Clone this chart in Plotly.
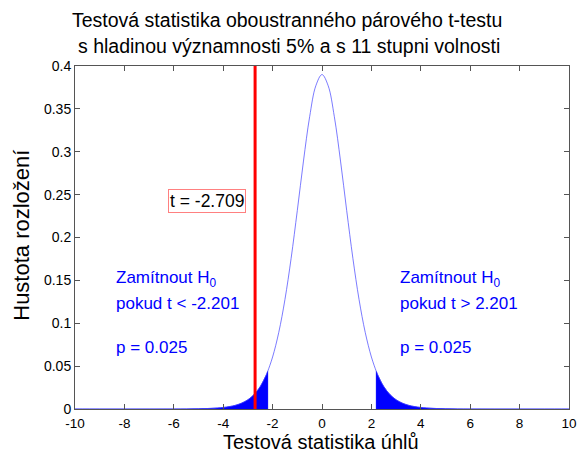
import plotly.graph_objects as go

# Student t density, 11 degrees of freedom (sampled values)
x_vals = [-10, -9, -8, -7, -6, -5, -4.5, -4, -3.75, -3.5, -3.25, -3, -2.75, -2.709,
          -2.5, -2.25, -2.201, -2, -1.75, -1.5, -1.25, -1, -0.75, -0.5, -0.25, 0,
          0.25, 0.5, 0.75, 1, 1.25, 1.5, 1.75, 2, 2.201, 2.25, 2.5, 2.75, 3, 3.25,
          3.5, 3.75, 4, 4.5, 5, 6, 7, 8, 9, 10]
density = [0.0000004, 0.0000012, 0.0000039, 0.000015, 0.000064, 0.000317, 0.000741,
           0.001784, 0.002787, 0.004374, 0.006876, 0.01080, 0.01689, 0.01816,
           0.02622, 0.04023, 0.04367, 0.06065, 0.08934, 0.1277, 0.17578, 0.2314,
           0.28915, 0.3408, 0.37697, 0.3900,
           0.37697, 0.3408, 0.28915, 0.2314, 0.17578, 0.1277, 0.08934, 0.06065,
           0.04367, 0.04023, 0.02622, 0.01689, 0.01080, 0.006876, 0.004374,
           0.002787, 0.001784, 0.000741, 0.000317, 0.000064, 0.000015, 0.0000039,
           0.0000012, 0.0000004]

t_crit = 2.201
t_stat = -2.709
x_ticks = [-10, -8, -6, -4, -2, 0, 2, 4, 6, 8, 10]
x_tick_text = ["-10", "-8", "-6", "-4", "-2", "0", "2", "4", "6", "8", "10"]
y_ticks = [0, 0.05, 0.1, 0.15, 0.2, 0.25, 0.3, 0.35, 0.4]
y_tick_text = ["0", "0.05", "0.1", "0.15", "0.2", "0.25", "0.3", "0.35", "0.4"]

FONT = "Liberation Sans, Arial, sans-serif"
BLUE = "#0000ff"

left_x = [x for x in x_vals if x <= -t_crit]
left_y = [d for x, d in zip(x_vals, density) if x <= -t_crit]
right_x = [x for x in x_vals if x >= t_crit]
right_y = [d for x, d in zip(x_vals, density) if x >= t_crit]

fig = go.Figure()

# shaded rejection regions
for tx, ty in ((left_x, left_y), (right_x, right_y)):
    fig.add_trace(go.Scatter(x=tx, y=ty, mode="lines", fill="tozeroy",
                             fillcolor=BLUE, line=dict(color=BLUE, width=0.5),
                             line_shape="spline", hoverinfo="skip", showlegend=False))
    edge_x = tx[-1] if tx[-1] < 0 else tx[0]
    edge_y = ty[-1] if tx[-1] < 0 else ty[0]
    fig.add_trace(go.Scatter(x=[edge_x, edge_x], y=[0, edge_y], mode="lines",
                             line=dict(color=BLUE, width=1),
                             hoverinfo="skip", showlegend=False))

# density curve
fig.add_trace(go.Scatter(x=x_vals, y=density, mode="lines", line_shape="spline",
                         line=dict(color="rgba(60,60,255,0.85)", width=0.8),
                         showlegend=False))

# observed statistic
fig.add_trace(go.Scatter(x=[t_stat, t_stat], y=[0, 0.4], mode="lines",
                         line=dict(color="#ff0000", width=3), showlegend=False))

annotations = [
    dict(text="Testová statistika oboustranného párového t-testu", x=0.429, y=1.134,
         xref="paper", yref="paper", showarrow=False,
         font=dict(size=19.5, color="black"), xanchor="center", yanchor="middle"),
    dict(text="s hladinou významnosti 5% a s 11 stupni volnosti", x=0.433, y=1.058,
         xref="paper", yref="paper", showarrow=False,
         font=dict(size=19.5, color="black"), xanchor="center", yanchor="middle"),
    dict(text="Testová statistika úhlů", x=0.498, y=-0.1315, xref="paper",
         yref="paper", showarrow=False, font=dict(size=20, color="black"),
         borderpad=0, xanchor="center", yanchor="bottom"),
    dict(text="Hustota rozložení", x=-0.11, y=0.507, xref="paper", yref="paper",
         showarrow=False, textangle=-90, font=dict(size=22, color="black"),
         xanchor="center", yanchor="middle"),
    dict(text="t = -2.709", x=-4.66, y=0.2426, xref="x", yref="y", showarrow=False,
         font=dict(size=17.5, color="black"), bordercolor="#ff8080", borderwidth=1,
         borderpad=1, bgcolor="white", xanchor="center", yanchor="middle"),
]
for x0, sign in ((-8.42, "<"), (3.08, ">")):
    crit_txt = f"-{t_crit}" if sign == "<" else f"{t_crit}"
    annotations += [
        dict(text="Zamítnout H<sub>0</sub>", x=x0, y=0.152, xref="x", yref="y",
             showarrow=False, font=dict(size=17, color=BLUE), xanchor="left",
             yanchor="middle"),
        dict(text=f"pokud t {'&lt;' if sign == '<' else '&gt;'} {crit_txt}", x=x0,
             y=0.1236, xref="x", yref="y", showarrow=False,
             font=dict(size=17, color=BLUE), xanchor="left", yanchor="middle"),
        dict(text="p = 0.025", x=x0, y=0.0723, xref="x", yref="y", showarrow=False,
             font=dict(size=17, color=BLUE), xanchor="left", yanchor="middle"),
    ]

fig.update_layout(
    width=580, height=454,
    margin=dict(l=75, r=11, t=66, b=45),
    paper_bgcolor="white", plot_bgcolor="white",
    font=dict(family=FONT, color="black"),
    annotations=annotations,
    xaxis=dict(range=[-10, 10], tickvals=x_ticks, ticktext=x_tick_text,
               ticks="inside", ticklen=5, tickcolor="#555", showline=True,
               linecolor="#555", linewidth=1, mirror="ticks", showgrid=False,
               zeroline=False, automargin=False, ticklabelstandoff=2,
               tickfont=dict(size=13.5)),
    yaxis=dict(range=[0, 0.4], tickvals=y_ticks, ticktext=y_tick_text, ticks="inside",
               ticklen=5, tickcolor="#555", showline=True, linecolor="#555",
               linewidth=1, mirror="ticks", showgrid=False, zeroline=False,
               automargin=False, tickfont=dict(size=14)),
)

fig.write_html("out.html")
